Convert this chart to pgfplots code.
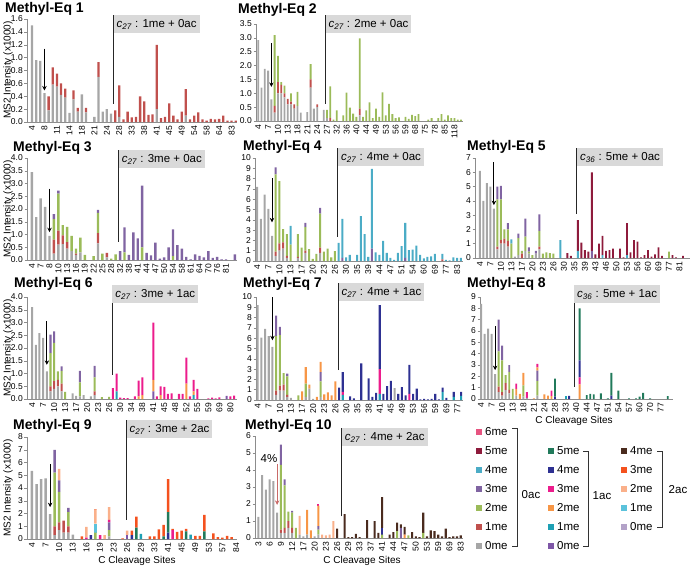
\documentclass[border=0pt]{standalone}
\usepackage{fontspec}
\setmainfont{Liberation Sans}
\usepackage{pgfplots}
\usepackage{pgfplotstable}
\pgfplotsset{compat=1.18}
\usetikzlibrary{arrows.meta}

\definecolor{zA}{HTML}{A6A6A6}
\definecolor{zB}{HTML}{C0504D}
\definecolor{zC}{HTML}{9BBB59}
\definecolor{zD}{HTML}{8064A2}
\definecolor{zE}{HTML}{4BACC6}
\definecolor{zF}{HTML}{8E1B3C}
\definecolor{zSix}{HTML}{E75480}
\definecolor{zG}{HTML}{7E57A7}
\definecolor{zH}{HTML}{1EA0B4}
\definecolor{zI}{HTML}{F79646}
\definecolor{zJ}{HTML}{EC1C8C}
\definecolor{zK}{HTML}{2E3192}
\definecolor{zL}{HTML}{217A5B}
\definecolor{zM}{HTML}{B3A2C8}
\definecolor{zN}{HTML}{5BC2DB}
\definecolor{zO}{HTML}{FAB08A}
\definecolor{zP}{HTML}{F4511E}
\definecolor{zQ}{HTML}{4A2B1E}
\definecolor{boxgray}{HTML}{D9D9D9}

% ---------------- data ----------------
\pgfplotstableread{
a b
1.5 0
0.96 0
0.95 0
0.45 0
0.18 0.22
0.58 0.27
0.55 0.2
0.42 0.18
0.38 0.14
0.14 0
0.35 0.14
0.16 0.06
0.43 0
0.15 0.07
0 0
0.08 0
0.7 0.23
0.16 0
0.2 0
0.13 0
0 0.18
0.08 0.49
0 0.04
0 0.16
0 0.07
0 0.08
0 0.4
0 0.32
0 0.11
0 0.12
0.2 1.0
0 0.06
0 0.08
0 0.29
0 0.1
0 0.04
0 0.16
0.1 0.41
0 0.04
0 0.1
0 0.15
0 0.04
0 0.02
0 0.05
0 0.04
0 0.05
0 0.1
0 0.02
0 0.02
0 0.02
}\tA

\pgfplotstableread{
a b c
2.92 0 0
1.2 0 0
1.88 0 0
1.82 0 0
0.78 0 0
0.3 0.25 2.55
1.0 0.4 0.95
1.0 0.3 0.1
0.85 0.15 0.28
0.6 0.2 0
0.6 0.1 0.3
0.45 0.15 0
0.55 0 0.5
0.3 0 0
0 0 0
0.32 0 0
1.2 0.3 0.55
0.45 0 0
0.5 0.1 0
0 0 0
0.4 0 0
0.1 0 0.3
0 0.1 1.15
0 0 0.05
0 0 0.38
0 0 0
0 0 0.2
0 0 1.02
0 0 0.48
0 0 0.27
0 0 0.15
0.2 0.25 2.53
0 0 0.15
0 0 0.38
0 0 0.67
0 0 0.1
0 0 0.45
0 0 0.15
0 0 1.03
0 0 0.2
0 0 0.62
0 0 0.25
0 0 0.1
0 0 0.13
0 0 0
0 0 0.15
0 0 0.08
0 0 0.22
0 0 0.18
0 0 0.25
0 0 0
0 0 0
0 0 0.05
0 0 0.1
0 0 0
0 0 0.1
0 0 0.25
0 0 0.05
0 0 0.2
0 0 0.1
0 0 0.1
0 0 0.05
0 0 0.05
}\tB

\pgfplotstableread{
a b c d
3.45 0 0 0
1.68 0 0 0
2.42 0 0 0
2.08 0 0 0
0.95 0 0 0
0.25 0.55 0.8 0.2
0.6 0.55 1.45 0.12
0.62 0.35 0.4 0
0.45 0.25 0.6 0
0.35 0 0.6 0
0.2 0.05 0.2 0
0.3 0 0.58 0
0 0 0.2 0
0 0 0 0
0 0 0.15 0
0.65 0.4 0.8 0.12
0 0 0.25 0
0.1 0.18 0 0
0 0 0.05 0
0 0 0.22 0
0 0 0 0.35
0 0 0.3 0.98
0 0 0 0.2
0 0 0 1.08
0 0 0 0.85
0 0 0.5 2.42
0 0 0 0.28
0 0 0 0.18
0 0 0 0.68
0 0 0 0.05
0 0 0 0.1
0 0 0 0.5
0 0 0.15 1.05
0 0 0 0.58
0 0 0 0.45
0 0 0 0.12
0 0 0 0.02
0 0 0 0.22
0 0 0 0.16
0 0 0 0.1
0 0 0 0.35
0 0 0 0.08
0 0 0 0.12
0 0 0 0.02
0 0 0 0.02
0 0 0 0
0 0 0 0.22
}\tC

\pgfplotstableread{
a b c d e
7.2 0 0 0 0
4.1 0 0 0 0
6.45 0 0 0 0
5.05 0 0 0 0
2.45 0 0 0 0
0.5 0.4 7.5 0.7 0
1.0 0.7 6.05 0 0
1.2 0.6 1.3 0 0
0.3 0.2 2.1 0 0
0 0 1.6 0 1.8
0 0 0 0 0
0.3 0.1 2.2 0 0
0 0 1.3 0 0
0.8 0.2 2.3 0.4 0
0 0 1.15 0 0
0 0 0.2 0 0
0 0 0.7 0 0
0.8 0.5 3.3 0.55 0
0 0 0.9 0 0
0 0 1.2 0 0
0 0 0.35 0 0
0 0 0.95 0 0
0 0 0 0 1.75
0 0 0 0.3 3.8
0 0 0 0 0.35
0 0 0 0 0.6
0 0 0 0 0
0 0 0 0 0.6
0 0 0 0 4.35
0 0 0 0 2.6
0 0 0 0 0.4
0 0 0 1.2 7.75
0 0 0 0 0.85
0 0 0 0 0.6
0 0 0 0 1.95
0 0 0 0 0.8
0 0 0 0 0.3
0 0 0 0 0.1
0 0 0 0 0.8
0 0 0 0 1.45
0 0 0 0.3 3.4
0 0 0 0 1.05
0 0 0 0 1.1
0 0 0 0 1.5
0 0 0 0 0.6
0 0 0 0 0.25
0 0 0 0 0.4
0 0 0 0 0.45
0 0 0 0 0.7
0 0 0 0 0
0 0.15 0 0 0.55
0 0 0 0 0.1
0 0 0 0 0.05
0 0 0 0 0.35
0 0 0 0 0.3
0 0 0 0 0.3
}\tD

\pgfplotstableread{
a b c d e f
6.1 0 0 0 0 0
4.0 0 0 0 0 0
5.25 0 0 0 0 0
5.0 0 0 0 0 0
3.45 0 0 0 0 0
0.6 0.2 3.3 0.9 0 0
1.0 0.25 2.85 0.95 0 0
1.0 0.35 0.65 0 0 0
0.8 0.4 0.8 0.45 0 0
0 0 1.0 0 0.3 0
0.1 0 0 0 0 0
0.2 0 1.2 0.3 0 0
0 0.3 0.2 0 0 0
0.5 0 1.0 1.25 0 0
0.3 0 0.15 0.3 0 0
0 0 0.2 0 0 0
0.3 0 0 0.2 0 0
0.6 0.2 1.1 1.15 0 0
0 0 0.3 0 0 0
0 0 0.4 0 0 0
0 0 0.35 0 0 0
0 0 0.3 0 0 0
0 0 0 0 0 0
0 0 0 0 1.25 0
0 0 0 0 0 0
0 0 0 0 0 0.35
0 0 0 0 0 0.15
0 0 0 0 0 0
0 0 0 0 0.5 2.15
0 0 0 0 0 1.08
0 0 0 0 0 0.55
0 0 0 0 0 0.45
0 0 0 0.5 0 5.5
0 0 0 0 0 0.25
0 0 0 0 0 1.0
0 0 0 0 0.2 1.35
0 0 0 0 0 0.5
0 0 0 0 0 0.55
0 0 0 0 0 0.65
0 0 0 0 0 0
0 0 0 0 0 0.65
0 0 0 0 0 0.05
0 0 0 0 0.2 2.25
0 0 0 0 0 0.4
0 0 0 0 0 1.25
0 0 0 0 0 1.15
0 0 0 0 0 0.05
0 0 0 0 0 0.2
0 0 0 0 0 0.55
0 0 0 0 0 0.1
0 0 0 0 0 0.25
0 0 0 0 0 0.75
0 0 0 0 0 0.15
0 0 0 0 0 0
0 0 0.45 0 0 0
0 0 0 0 0 0.2
0 0 0 0 0 0.05
0 0 0 0 0 0
0 0 0 0 0 0.15
}\tE

\pgfplotstableread{
a b c d g h i j
3.6 0 0 0 0 0 0 0
2.12 0 0 0 0 0 0 0
2.58 0 0 0 0 0 0 0
2.4 0 0 0 0 0 0 0
1.08 0 0 0 0 0 0 0
0.3 0.2 1.3 0.72 0 0 0 0
0.4 0.3 1.5 0.45 0 0 0 0
0.5 0.25 0.33 0 0 0 0 0
0.3 0.3 0.5 0.18 0 0 0 0
0 0 0.28 0 0 0 0 0
0 0 0 0 0 0 0 0
0.22 0 0 0 0 0 0 0
0.12 0 0 0 0 0 0 0
0.1 0 0.55 0.45 0 0 0 0
0.15 0 0 0 0 0 0 0
0 0 0 0 0 0 0 0
0.1 0 0 0 0 0 0 0
0.15 0.15 0.55 0.45 0 0 0 0
0 0 0 0 0 0 0 0
0 0 0.07 0 0 0 0 0
0 0 0 0 0 0 0 0
0 0 0.08 0 0 0 0 0
0 0 0 0 0 0 0 0.43
0 0 0 0 0 0.3 0 0.7
0 0 0 0 0 0 0 0.05
0 0 0 0 0 0 0 0.03
0 0 0 0 0 0 0 0.03
0 0 0 0 0 0 0 0
0 0 0 0 0 0 0 0.1
0 0 0 0 0 0 0.1 0.62
0 0 0 0 0 0 0.15 0.7
0 0 0 0 0 0 0 0
0 0 0 0 0 0 0 0
0 0 0 0 0.3 0 0.45 2.25
0 0 0 0 0 0 0 0.1
0 0 0 0 0 0 0.15 0.35
0 0 0 0 0 0 0 0.48
0 0 0 0 0 0 0 0.2
0 0 0 0 0 0 0 0.22
0 0 0 0 0 0 0 0
0 0 0 0 0 0 0 0.2
0 0 0 0 0 0 0 0.2
0 0 0 0 0 0 0.6 1.02
0 0 0 0 0 0 0 0.1
0 0 0 0 0 0.15 0.15 0.45
0 0 0 0 0 0 0 0.4
0 0 0 0 0 0 0 0
0 0 0 0 0 0 0 0
0 0 0 0 0 0 0 0.02
0 0 0 0 0 0 0 0.05
0 0 0 0 0 0 0 0.02
0 0 0 0 0 0 0 0.06
0 0 0 0 0 0 0 0
0 0 0 0 0.12 0 0 0
0 0 0 0 0 0 0 0.1
0 0 0 0 0 0 0 0.13
}\tF

\pgfplotstableread{
a b c d h i j k
9.2 0 0 0 0 0 0 0
6.05 0 0 0 0 0 0 0
6.9 0 0 0 0 0 0 0
6.2 0 0 0 0 0 0 0
5.15 0 0 0 0 0 0 0
0.5 0.4 5.3 2.0 0 0 0 0
0.9 0.5 4.9 0.8 0 0 0 0
0.9 0.6 1.1 0 0 0 0 0
0.3 0.2 1.8 0.25 0 0 0 0
0.2 0 0 0 0 0 0 0
0 0 0 0 0 0 0 0
0 0 0.45 0 0 0 0 0
0 0 0 0 0 0.85 0 0
0.3 0 1.3 0 0 1.6 0 0
1.1 0 0 0 0 0.4 0 0
0.1 0 0 0 0 0 0 0
0 0 0 0 0 0.3 0 0
0.3 0 1.5 0.9 0 1.0 0 0
0 0 0 0 0 0.55 0 0
0 0 0 0 0 0.75 0 0
0 0 0 0 0 0.45 0 0
0 0 0 0 0 1.8 0 0
0 0 0 0 0 0 0 1.2
0 0 0 0 0.5 0 0.3 1.9
0 0 0 0 0 0 0 0
0 0 0 0 0 0 0 0.35
0 0 0 0 0 0 0 0.15
0 0 0 0 0 0 0 0
0 0 0 0 0 0 0 3.55
0 0 0 0 0 0 0 0
0 0 0 0 0 0 0 2.1
0 0 0 0 0 0 0 0.3
0 0 0 0 0 0 0 0.7
0 0 0 0 0.6 0 2.4 6.2
0 0 0 0 0 0 0 0.6
0 0 0 0 0 0 0 1.35
0 0 0 0 0 0 0 1.85
1.15 0 0 0 0 0 0 0
0 0 0 0 0 0 0 0.6
0 0 0 0 0 0 0 1.25
0 0 0 0 0 0 0 0.45
0 0 0 0 0 0 0.6 2.8
0 0 0 0 0 0 0 0.6
0 0 0 0 0 0 0 1.1
0 0 0 0 0 0 0 0.05
0 0 0 0 0 0 0 0.1
0 0 0 0 0 0 0 0.05
0 0 0 0 0 0 0 0.1
0 0 0 0 0 0 0 0.6
0 0 0 0 0 0 0 0.05
0 0 0 0 0.8 0 0 0.4
0 0 0 0 0 0 0 0.2
0 0 0 0 0 0 0 0
0 0 0 0 0.3 0 0 0.5
0 0 0 0 0 0 0 0
0 0 0 0 0.4 0 0 0.4
}\tG

\pgfplotstableread{
a b c d h i j k l
8.4 0 0 0 0 0 0 0 0
5.75 0 0 0 0 0 0 0 0
6.2 0 0 0 0 0 0 0 0
5.75 0 0 0 0 0 0 0 0
2.2 0 0 0 0 0 0 0 0
0.6 0.5 3.1 2.8 0 0 0 0 0
0.3 0.3 2.8 1.3 0 0 0 0 0
0.8 0.6 0.7 0 0 0 0 0 0
0.5 0.3 1.6 0.6 0 0 0 0 0
0 0 0.9 0 0 0 0 0 0
0.3 0 0 0 0 0.6 0.45 0 0
0 0 0 0 0 0.45 0 0 0
0.2 0 1.0 0 0 1.1 0 0 0
0.1 0 0 0 0 0 0.5 0 0
0 0 0 0 0 0 0 0 0
0 0 0 0 0 0.05 0 0 0
0.3 0 1.3 0.9 0 0.3 0.3 0 0
0 0 0 0 0 0 0 0 0
0 0 0 0 0 0.4 0 0 0
0 0 0 0 0 0.3 0 0 0
0 0 0 0 0 0.25 0.5 0 0
0 0 0 0 0 0 0 0.2 1.6
0 0 0 0 0 0 0 0 0
0 0 0 0 0 0 0 0 0
0 0 0 0 0.25 0 0 0 0
0 0 0 0 0 0 0 0.28 0
0 0 0 0 0 0 0 0 0
0 0 0 0 0 0 0 0 0
0 0 0 0 0 1.3 0.6 1.5 4.6
0 0 0 0 0 0 0 0 0
0 0 0 0 0 0 0 0 0.35
0 0 0 0 0 0 0 0 0.45
0 0 0 0 0 0 0 0 0.4
0 0 0 0 0 0 0 0 0
0 0 0 0 0 0 0 0 0.5
0 0 0 0 0 0 0 0 0
0 0 0 0 0 0 0 0 0.05
0 0 0 0 0 0 0 0.3 2.0
0 0 0 0 0 0 0 0 0
0 0 0 0 0 0 0 0 0.75
0 0 0 0 0 0 0 0 0
0 0 0 0 0 0 0 0 0
0 0 0 0 0 0 0 0 0.05
0 0 0 0 0 0 0 0 0
0 0 0 0 0 0 0 0 0.05
0 0 0 0 0 0 0 0 0.2
0 0 0 0 0 0 0 0 0.55
0 0 0 0 0 0 0 0 0
0 0 0 0 0 0 0 0 0.05
0 0 0 0 0 0 0 0 0
0 0 0 0 0 0 0 0 0
0 0 0 0 0 0 0 0 0
0 0 0 0 0 0 0 0 0
0 0 0 0 0 0 0 0 0.25
}\tH

\pgfplotstableread{
a b c d g h j k l n o p
5.35 0 0 0 0 0 0 0 0 0 0 0
4.3 0 0 0 0 0 0 0 0 0 0 0
4.7 0 0 0 0 0 0 0 0 0 0 0
4.75 0 0 0 0 0 0 0 0 0 0 0
1.95 0 0 0 0 0 0 0 0 0 0 0
0.3 0.7 4.2 1.8 0 0 0 0 0 0 0 0
0.7 0.6 2.4 0.9 0 0 0 0 0 0 0.9 0
0.5 0.95 0 0 0 0 0 0 0 0 0 0
0.5 0.5 1.1 0.35 0 0 0 0 0 0 0 0
0.35 0 0 0 0 0 0 0 0 0 0 0
0 0 0 0 0 0 0 0 0 0 0 0
0 0 0 0 0 0 0 0 0 0 0 0.2
0 0 0 0 0 0 0.1 0 0 0 0.85 0
0 0 0 0 0 0 0 0.3 0 0 0 0
0 0 0.5 0 0 0 0 0 0 0.7 1.1 0.05
0 0 0 0 0 0 0.3 0 0 0 0 0
0 0 0 0 0 0 0 0 0 0 0.3 0
0.2 0 0.5 0.6 0 0 0.2 0 0 0 1.0 0
0 0 0 0 0 0 0 0 0 0 0 0
0 0 0 0 0 0 0 0 0 0 0 0
0 0 0 0 0 0 0 0 0 0 0 0.05
0 0 0 0 0.3 0 0 0 0 0 0.35 0
0 0 0 0 0 0 0 0.3 0 0 0 0.35
0 0 0 0 0 0 0 0 0.9 0 0 0.85
0 0 0 0 0 0.4 0 0 0 0 0 0
0 0 0 0 0 0 0 0 0 0 0 0
0 0 0 0 0 0 0 0 0 0 0 0.2
0 0 0 0 0 0 0 0 0 0 0 0.2
0 0 0 0 0 0 0 0 0 0 0 0.75
0 0 0 0 0 0 0 0 0.2 0 0 0.9
0 0 0 0 0 0 0 0.5 1.6 0 0 2.6
0 0 0 0 0 0 0.7 0 0 0 0 0.1
0 0 0 0 0 0 0 0 0 0 0 0.55
0 0 0 0 0 0 0 0 0 0 0 0.65
0 0 0 0 0 0 0 0 0.6 0 0 0.2
0 0 0 0 0 0.35 0 0 0 0 0 0
0 0 0 0 0 0 0 0 0 0 0 0.25
0 0 0 0 0 0 0 0 0 0 0 0.25
0 0 0 0 0 0 0 0 0.6 0 0 1.3
0 0 0 0 0 0 0 0 0 0 0 0
0 0 0 0 0 0 0 0 0 0 0 0.45
0 0 0 0 0 0 0 0 0 0 0 0.15
0 0 0 0 0 0 0 0 0 0 0 0.1
0 0 0 0 0 0 0 0 0 0 0 0.25
0 0 0 0 0 0 0 0 0 0 0 0.15
}\tI

\pgfplotstableread{
a b c d i j k o q
1.25 0 0 0 0 0 0 0 0
3.7 0 0 0 0 0 0 0 0
2.85 0 0 0 0 0 0 0 0
3.45 0 0 0 0 0 0 0 0
3.35 0 0 0 0 0 0 0 0
1.5 0 0 0 0 0 0 0 0
0.3 0.2 3.8 1.2 0 0 0 0 0
0.3 0.3 2.5 0.35 0 0 0 0 0
0.6 0.4 0.55 0 0 0 0 0 0
0.3 0.3 0.9 0.1 0 0 0 0 0
0 0 0.6 0 0 0 0 0 0
0.2 0 0 0 0 0 0 1.1 0
0.1 0 0 0 0 0 0 0 0
0.2 0 0 0 1.45 0 0 0 0
0 0 0 0 0.45 0 0 0 0
0.1 0 0 0 0 0 0 0 0
0.2 0 0.3 0.2 1.2 0.1 0 0 0
0 0 0 0 0 0 0 0.2 0
0 0 0 0 0 0 0 0.15 0
0 0 0 0 0 0 0 0.2 0
0 0 0 0 0 0 0 1.0 0
0 0 0 0 0 0 0 0 0.55
0 0 0 0 0 0 0 0 0
0 0 0 0 0 0 0 0 1.4
0 0 0 0 0 0 0 0 0.05
0 0 0 0 0 0 0 0 0.05
0 0 0 0 0 0 0 0 0.25
0 0 0 0 0 0 0 0 0.05
0 0 0 0 0 0 0 0 0
0 0 0 0 0 0 0 0 1.05
0 0 0 0 0 0 0 0 0
0 0 0 0 0 0 0 0 1.0
0 0 0 0 0 0 0 0 0.3
0 0 0.2 0 0 0 0.4 0 1.8
0 0 0 0 0 0 0 0 0
0 0 0 0 0 0 0 0 0.2
0 0 0 0 0 0 0 0 0.35
0 0 0.4 0 0 0 0 0 0.5
0 0 0 0.6 0 0 0 0 0.2
0 0 0 0 0.2 0 0 0 0.45
0 0 0.15 0 0 0 0 0 0
0 0 0 0 0 0 0 0 0.35
0 0 0 0 0 0 0 0 0.1
0 0 0 0 0 0 0 0 0.05
0 0 0.3 0 0 0 0 0 1.2
0 0 0 0 0 0 0 0 0.1
0 0 0 0 0 0 0 0 0.45
0 0 0 0 0 0 0 0 0.4
0 0 0 0 0 0 0 0 0.2
0 0 0 0 0 0 0 0 0.1
0 0 0 0 0 0 0 0 0.55
0 0 0 0 0 0 0 0 0.05
0 0 0 0 0 0 0 0 0.1
0 0 0 0 0 0 0 0 0.1
0 0 0 0 0 0 0 0 0.15
}\tJ

% ---------------- helpers ----------------
\newcommand{\lay}[3]{\addplot[fill=#3,draw=none] table[x expr=\coordindex,y=#2]{#1};}
\newcommand{\cl}[2]{{\itshape c\textsubscript{#1}} : #2}
\newcommand{\cut}[4]{%
  \node[anchor=north west, fill=boxgray, inner xsep=3pt, inner ysep=0pt,
        minimum height=18pt, font=\fontsize{11.5}{12}\selectfont] at (axis cs:#1,#3) {#4};
  \draw[black!85, line width=0.9pt] (axis cs:#1,#2) -- (axis cs:#1,#3);}
\newcommand{\arr}[4][black]{\draw[#1, line width=0.9pt, -{Stealth[length=4.5pt,width=4.5pt]}] (axis cs:#2,#3) -- (axis cs:#2,#4);}

\pgfplotsset{
  panel/.style={
    scale only axis, ybar stacked, bar width=0.55, ymin=0,
    axis x line*=bottom, axis y line*=left,
    axis line style={draw=black!45, line width=0.6pt, -},
    tick align=outside, major tick length=2.5pt,
    ytick style={draw=black!45, line width=0.5pt},
    xtick style={draw=none},
    tick label style={font=\fontsize{8.5}{9}\selectfont},
    x tick label style={rotate=90, anchor=east, inner sep=1pt},
    y tick label style={inner sep=1.5pt},
    /pgf/number format/assume math mode=true,
    clip=false, anchor=south west,
  },
  dec1/.style={yticklabel style={/pgf/number format/fixed,/pgf/number format/fixed zerofill,/pgf/number format/precision=1}},
}

\begin{document}
\begin{tikzpicture}
\useasboundingbox (0pt,0pt) rectangle (696pt,-568pt);

% P1
\begin{axis}[panel, at={(27pt,-122pt)}, width=210pt, height=103pt,
  xmin=-1.2, xmax=49.3, ymax=1.6, ytick={0,0.2,0.4,0.6,0.8,1.0,1.2,1.4,1.6}, dec1,
  xtick={0,3,...,48}, xticklabels={4,8,11,14,18,21,24,28,33,38,41,45,49,54,58,64,83}]
\lay\tA{a}{zA}\lay\tA{b}{zB}
\cut{19.6}{0.28}{1.66}{\cl{27}{1me + 0ac}}
\arr{3}{1.14}{0.49}
\end{axis}

% P2
\begin{axis}[panel, at={(256pt,-121pt)}, width=207pt, height=97pt,
  xmin=-0.7, xmax=62.6, ymax=3.5, ytick={0,0.5,1.0,1.5,2.0,2.5,3.0,3.5}, dec1,
  xtick={0,3,...,60}, xticklabels={4,7,10,13,18,21,24,27,32,36,40,44,49,53,56,59,68,75,78,85,118}]
\lay\tB{a}{zA}\lay\tB{b}{zB}\lay\tB{c}{zC}
\cut{20.5}{0.63}{3.82}{\cl{27}{2me + 0ac}}
\arr{4}{2.8}{1.23}
\end{axis}

% P3
\begin{axis}[panel, at={(27pt,-260pt)}, width=210pt, height=102pt,
  xmin=-1.1, xmax=46.5, ymax=4, ytick={0,0.5,1.0,1.5,2.0,2.5,3.0,3.5,4.0}, dec1,
  xtick={0,2,...,44}, xticklabels={4,7,8,10,13,16,19,22,25,28,32,38,41,44,47,50,54,58,61,64,70,76,81}]
\lay\tC{a}{zA}\lay\tC{b}{zB}\lay\tC{c}{zC}\lay\tC{d}{zD}
\cut{19.7}{0.72}{4.31}{\cl{27}{3me + 0ac}}
\arr{4}{2.8}{1.09}
\end{axis}

% P4
\begin{axis}[panel, at={(255pt,-261pt)}, width=208pt, height=103pt,
  xmin=-0.6, xmax=55.6, ymax=10, ytick={0,1,...,10},
  xtick={0,3,...,54}, xticklabels={4,7,10,13,17,20,23,26,30,35,39,44,47,51,54,60,69,77,83}]
\lay\tD{a}{zA}\lay\tD{b}{zB}\lay\tD{c}{zC}\lay\tD{d}{zD}\lay\tD{e}{zE}
\cut{21.8}{2.35}{10.97}{\cl{27}{4me + 0ac}}
\arr{4}{8.05}{3.75}
\end{axis}

% P5
\begin{axis}[panel, at={(475pt,-258pt)}, width=215pt, height=100pt,
  xmin=-1.4, xmax=60, ymax=7, ytick={0,1,...,7},
  xtick={0,3,...,57}, xticklabels={4,7,10,13,17,20,23,26,30,35,39,43,46,50,53,56,60,69,77,81}]
\lay\tE{a}{zA}\lay\tE{b}{zB}\lay\tE{c}{zC}\lay\tE{d}{zD}\lay\tE{e}{zE}\lay\tE{f}{zF}
\cut{27.7}{3.1}{7.7}{\cl{36}{5me + 0ac}}
\arr{4}{6.7}{3.7}
\end{axis}

% P6
\begin{axis}[panel, at={(27pt,-399pt)}, width=210pt, height=102pt,
  xmin=-1.4, xmax=55.8, ymax=4, ytick={0,0.5,1.0,1.5,2.0,2.5,3.0,3.5,4.0}, dec1,
  xtick={0,3,...,54}, xticklabels={4,7,10,13,17,20,23,26,30,34,38,41,45,48,52,55,59,69,80}]
\lay\tF{a}{zA}\lay\tF{b}{zB}\lay\tF{c}{zC}\lay\tF{d}{zD}
\lay\tF{g}{zG}\lay\tF{h}{zH}\lay\tF{i}{zI}\lay\tF{j}{zJ}
\cut{21.8}{0.95}{4.47}{\cl{27}{3me + 1ac}}
\arr{4}{3.04}{1.34}
\end{axis}

% P7
\begin{axis}[panel, at={(256pt,-400pt)}, width=207pt, height=103pt,
  xmin=-0.45, xmax=55.5, ymax=10, ytick={0,1,...,10},
  xtick={0,3,...,54}, xticklabels={4,7,10,13,17,20,23,26,30,35,38,41,45,49,53,56,59,69,77}]
\lay\tG{a}{zA}\lay\tG{b}{zB}\lay\tG{c}{zC}\lay\tG{d}{zD}
\lay\tG{h}{zH}\lay\tG{i}{zI}\lay\tG{j}{zJ}\lay\tG{k}{zK}
\cut{21.8}{2.9}{11.36}{\cl{27}{4me + 1ac}}
\arr{4}{10}{5.8}
\end{axis}

% P8
\begin{axis}[panel, at={(480pt,-399pt)}, width=193pt, height=102pt,
  xmin=-0.3, xmax=54.5, ymax=9, ytick={0,1,...,9},
  xtick={0,3,...,51}, xticklabels={4,7,10,13,18,21,24,28,33,40,44,47,51,54,57,60,70,77}]
\lay\tH{a}{zA}\lay\tH{b}{zB}\lay\tH{c}{zC}\lay\tH{d}{zD}
\lay\tH{h}{zH}\lay\tH{i}{zI}\lay\tH{j}{zJ}\lay\tH{k}{zK}\lay\tH{l}{zL}
\cut{26.4}{1.1}{10.06}{\cl{36}{5me + 1ac}}
\arr{4}{6.4}{2.55}
\end{axis}

% P9
\begin{axis}[panel, at={(27pt,-539pt)}, width=210pt, height=102pt,
  xmin=-1.1, xmax=45.2, ymax=8, ytick={0,1,...,8},
  xtick={0,3,...,45}, xticklabels={4,7,10,13,16,19,23,26,29,33,41,45,49,53,57,84}]
\lay\tI{a}{zA}\lay\tI{b}{zB}\lay\tI{c}{zC}\lay\tI{d}{zD}
\lay\tI{g}{zG}\lay\tI{h}{zH}\lay\tI{j}{zJ}\lay\tI{k}{zK}\lay\tI{l}{zL}
\lay\tI{n}{zN}\lay\tI{o}{zO}\lay\tI{p}{zP}
\cut{20.8}{1.5}{9.33}{\cl{27}{3me + 2ac}}
\arr{4}{5.9}{2.5}
\end{axis}

% P10
\begin{axis}[panel, at={(255pt,-538pt)}, width=208pt, height=102pt,
  xmin=-0.9, xmax=54.6, ymax=6, ytick={0,1,...,6},
  xtick={0,3,...,54}, xticklabels={3,6,9,12,17,20,23,26,29,33,37,41,44,47,50,53,59,69,83}]
\lay\tJ{a}{zA}\lay\tJ{b}{zB}\lay\tJ{c}{zC}\lay\tJ{d}{zD}
\lay\tJ{i}{zI}\lay\tJ{j}{zJ}\lay\tJ{k}{zK}\lay\tJ{o}{zO}\lay\tJ{q}{zQ}
\cut{22.2}{1.27}{6.47}{\cl{27}{4me + 2ac}}
\arr[zB!85]{5}{4.35}{1.95}
\end{axis}

\begin{scope}[x=1pt,y=-1pt]
% titles
\tikzset{ttl/.style={anchor=base west, inner sep=0pt, font=\bfseries\fontsize{14}{14}\selectfont}}
\node[ttl] at (5,12) {Methyl-Eq 1};
\node[ttl] at (238,13) {Methyl-Eq 2};
\node[ttl] at (13,151) {Methyl-Eq 3};
\node[ttl] at (243,150) {Methyl-Eq 4};
\node[ttl] at (467,150) {Methyl-Eq 5};
\node[ttl] at (14,287) {Methyl-Eq 6};
\node[ttl] at (243,287) {Methyl-Eq 7};
\node[ttl] at (467,287) {Methyl-Eq 8};
\node[ttl] at (13,429) {Methyl-Eq 9};
\node[ttl] at (245,429) {Methyl-Eq 10};
% y labels
\tikzset{yl/.style={rotate=90, inner sep=0pt, font=\fontsize{10}{10}\selectfont}}
\node[yl] at (8,70) {MS2 Intensity (x1000)};
\node[yl] at (8,209) {MS2 Intensity (x1000)};
\node[yl] at (8,348) {MS2 Intensity (x1000)};
\node[yl] at (8,488) {MS2 Intensity (x1000)};
% x labels
\tikzset{xl/.style={inner sep=0pt, font=\fontsize{10}{10}\selectfont}}
\node[xl] at (574,421) {C Cleavage Sites};
\node[xl] at (137,561) {C Cleavage Sites};
\node[xl] at (362,561) {C Cleavage Sites};
% 4% label
\node[inner sep=0pt, font=\fontsize{11.5}{12}\selectfont] at (269,459) {4\%};
% legend
\tikzset{lt/.style={anchor=west, inner sep=0pt, font=\fontsize{11.5}{12}\selectfont}}
\foreach \lab/\col/\yy in {6me/zSix/432,5me/zF/451,4me/zE/470,3me/zD/489,2me/zC/508,1me/zB/527,0me/zA/546}{
  \fill[\col] (476,\yy-3) rectangle (482,\yy+3);
  \node[lt] at (485,\yy) {\lab};}
\foreach \lab/\col/\yy in {5me/zL/451,4me/zK/470,3me/zJ/489,2me/zI/508,1me/zH/527,0me/zG/546}{
  \fill[\col] (548,\yy-3) rectangle (554,\yy+3);
  \node[lt] at (557,\yy) {\lab};}
\foreach \lab/\col/\yy in {4me/zQ/451,3me/zP/470,2me/zO/489,1me/zN/508,0me/zM/527}{
  \fill[\col] (621,\yy-3) rectangle (627,\yy+3);
  \node[lt] at (630,\yy) {\lab};}
\draw[black!80, line width=0.7pt] (512,428) -- (517,428) -- (517,546) -- (512,546);
\draw[black!80, line width=0.7pt] (583,451) -- (588,451) -- (588,546) -- (583,546);
\draw[black!80, line width=0.7pt] (657,451) -- (662,451) -- (662,527) -- (657,527);
\node[lt, anchor=center] at (531,495) {0ac};
\node[lt, anchor=center] at (602,496) {1ac};
\node[lt, anchor=center] at (678,490) {2ac};
\end{scope}
\end{tikzpicture}
\end{document}
